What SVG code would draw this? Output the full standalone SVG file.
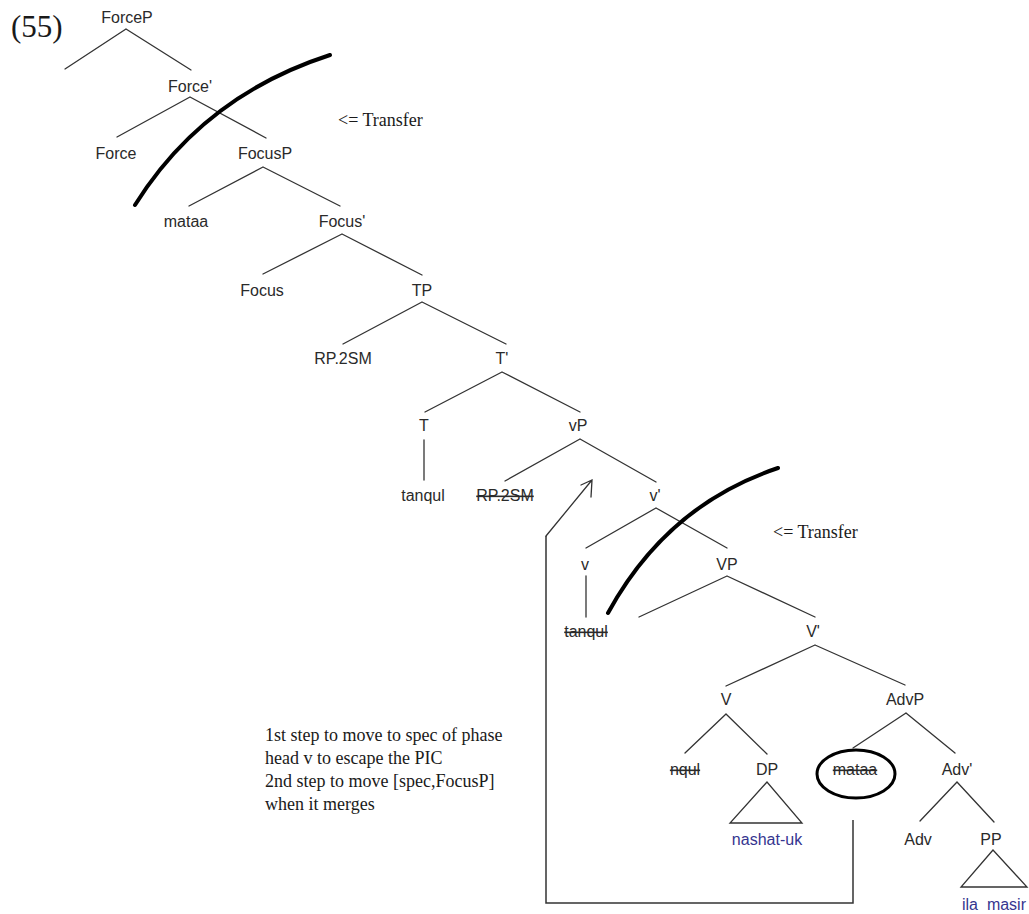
<svg xmlns="http://www.w3.org/2000/svg" width="1029" height="914" viewBox="0 0 1029 914">
<style>
  .lbl { font-family: "Liberation Sans", Arial, sans-serif; font-size: 16px; fill: #2a2a2a; text-anchor: middle; }
  .blue { fill: #35358f; }
  .del { text-decoration: line-through; }
  .serif { font-family: "Liberation Serif", "Times New Roman", serif; fill: #1a1a1a; }
  .edge { stroke: #333; stroke-width: 1.3; fill: none; stroke-linecap: round; }
  .cut { stroke: #000; stroke-width: 4; fill: none; stroke-linecap: round; }
  .move { stroke: #333; stroke-width: 1.5; fill: none; }
</style>
<rect width="1029" height="914" fill="#fff"/>

<text class="serif" x="11" y="37" font-size="31">(55)</text>

<g id="connectors">
  <path class="edge" d="M126,29 L65,69 M126,29 L191,70"/>
  <path class="edge" d="M190,97 L117,137 M190,97 L266,138"/>
  <path class="edge" d="M263,167 L189,206 M263,167 L340,206"/>
  <path class="edge" d="M342,234 L263,274 M342,234 L422,275"/>
  <path class="edge" d="M422,302 L343,344 M422,302 L506,344"/>
  <path class="edge" d="M502,372 L425,412 M502,372 L580,412"/>
  <path class="edge" d="M424,440 L424,480"/>
  <path class="edge" d="M580,439 L505,481 M580,439 L656,482"/>
  <path class="edge" d="M656,508 L586,548 M656,508 L727,548"/>
  <path class="edge" d="M586,576 L586,617"/>
  <path class="edge" d="M727,576 L639,617 M727,576 L815,617"/>
  <path class="edge" d="M815,645 L726,686 M815,645 L905,685"/>
  <path class="edge" d="M726,714 L685,753 M726,714 L767,754"/>
  <path class="edge" d="M767,782 L730,823 L802,823 Z"/>
  <path class="edge" d="M906,713 L853,748 M906,713 L955,753"/>
  <path class="edge" d="M957,782 L920,821 M957,782 L994,822"/>
  <path class="edge" d="M993,850 L961,887 L1027,887 Z"/>
</g>

<g id="n-ForceP"><text class="lbl" x="127" y="23">ForceP</text></g>
<g id="n-Force-bar"><text class="lbl" x="190" y="92">Force'</text></g>
<g id="n-Force"><text class="lbl" x="116" y="159">Force</text></g>
<g id="n-FocusP"><text class="lbl" x="265" y="159">FocusP</text></g>
<g id="n-mataa"><text class="lbl" x="186" y="227">mataa</text></g>
<g id="n-Focus-bar"><text class="lbl" x="342" y="227">Focus'</text></g>
<g id="n-Focus"><text class="lbl" x="262" y="296">Focus</text></g>
<g id="n-TP"><text class="lbl" x="422" y="296">TP</text></g>
<g id="n-RP2SM"><text class="lbl" x="343" y="364">RP.2SM</text></g>
<g id="n-T-bar"><text class="lbl" x="502" y="364">T'</text></g>
<g id="n-T"><text class="lbl" x="424" y="431">T</text></g>
<g id="n-vP"><text class="lbl" x="578" y="431">vP</text></g>
<g id="n-tanqul-T"><text class="lbl" x="423" y="501">tanqul</text></g>
<g id="n-RP2SM-copy"><text class="lbl del" x="505" y="501">RP.2SM</text></g>
<g id="n-v-bar"><text class="lbl" x="655" y="501">v'</text></g>
<g id="n-v"><text class="lbl" x="585" y="570">v</text></g>
<g id="n-VP"><text class="lbl" x="727" y="570">VP</text></g>
<g id="n-tanqul-v"><text class="lbl del" x="586" y="637">tanqul</text></g>
<g id="n-V-bar"><text class="lbl" x="813" y="637">V'</text></g>
<g id="n-V"><text class="lbl" x="726" y="705">V</text></g>
<g id="n-AdvP"><text class="lbl" x="905" y="705">AdvP</text></g>
<g id="n-nqul"><text class="lbl del" x="685" y="775">nqul</text></g>
<g id="n-DP"><text class="lbl" x="767" y="775">DP</text></g>
<g id="n-mataa-copy">
  <ellipse cx="856" cy="774" rx="39" ry="24" fill="none" stroke="#000" stroke-width="3"/>
  <text class="lbl del" x="855" y="775">mataa</text>
</g>
<g id="n-Adv-bar"><text class="lbl" x="957" y="775">Adv'</text></g>
<g id="n-nashat-uk"><text class="lbl blue" x="767" y="845">nashat-uk</text></g>
<g id="n-Adv"><text class="lbl" x="918" y="845">Adv</text></g>
<g id="n-PP"><text class="lbl" x="991" y="845">PP</text></g>
<g id="n-ila-masir"><text class="lbl blue" x="994" y="910" xml:space="preserve">ila  masir</text></g>

<g id="transfer-cuts">
  <path class="cut" d="M135,205 Q203,96 330,55"/>
  <path class="cut" d="M608,613 Q667,505 778,468"/>
  <text class="serif" x="338" y="126" font-size="18">&lt;= Transfer</text>
  <text class="serif" x="773" y="538" font-size="18">&lt;= Transfer</text>
</g>

<g id="movement-arrow">
  <polyline class="move" points="853,820 853,903 546,903 546,536"/>
  <path class="edge" d="M546,536 L592,480 M581,485 L592,480 L591,497" stroke-width="1"/>
</g>

<g id="note" class="serif" font-size="18">
  <text x="265" y="741">1st step to move to spec of phase</text>
  <text x="265" y="764">head v to escape the PIC</text>
  <text x="265" y="787">2nd step to move [spec,FocusP]</text>
  <text x="265" y="810">when it merges</text>
</g>
</svg>
